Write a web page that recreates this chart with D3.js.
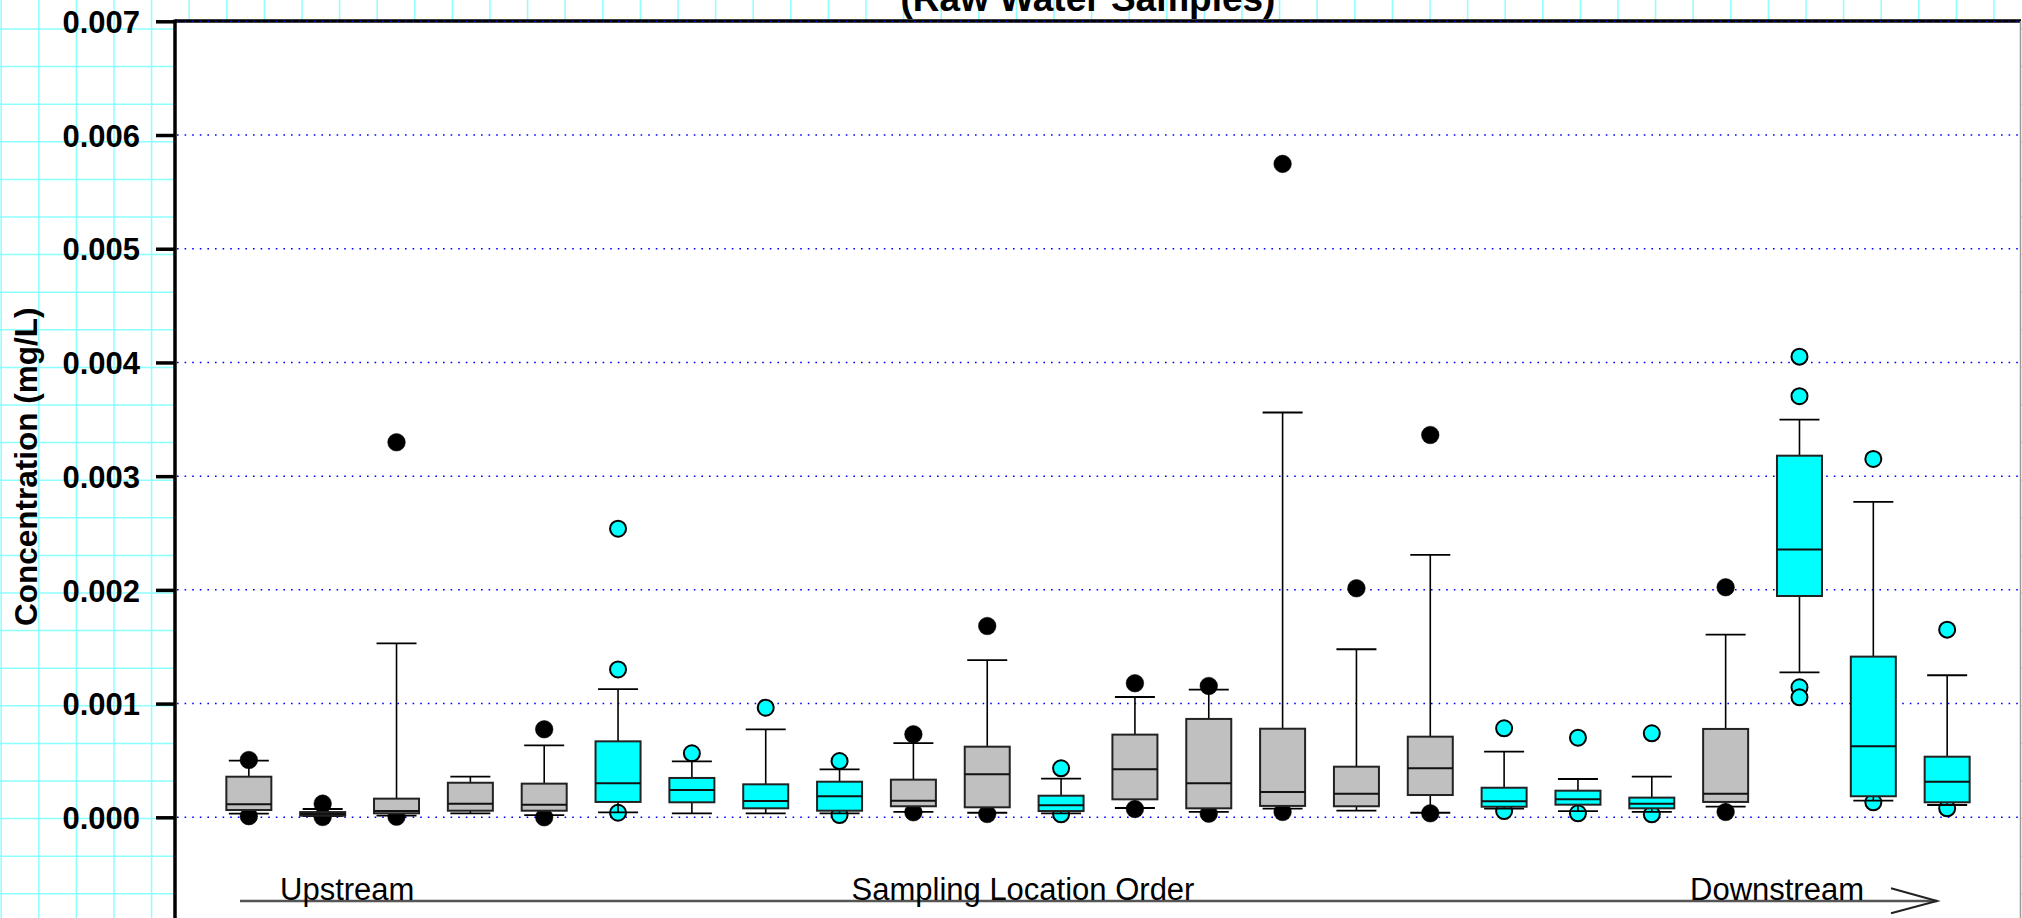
<!DOCTYPE html>
<html>
<head>
<meta charset="utf-8">
<script src="https://cdn.jsdelivr.net/npm/d3@7"></script>
<style>
  html, body { margin: 0; padding: 0; background: #fff; }
  svg { display: block; }
  text { font-family: "Liberation Sans", Arial, sans-serif; }
</style>
</head>
<body>
<svg id="chart" width="2022" height="918"></svg>
<script>
// ---------------- DATA ----------------
const locations = ["1","2","3","4","5","6","7","8","9","10","11","12","13","14","15","16","17","18","19","20","21","22","23","24"];
const boxType   = ["g","g","g","g","g","c","c","c","c","g","g","c","g","g","g","g","g","c","c","c","g","c","c","c"];
const whiskerLow  = [0.000032,0.000010,0.000014,0.000035,0.000020,0.000044,0.000035,0.000035,0.000035,0.000047,0.000040,0.000035,0.000082,0.000047,0.000076,0.000058,0.000040,0.000076,0.000055,0.000047,0.000093,0.001275,0.000146,0.000108];
const q1Values    = [0.000064,0.000014,0.000035,0.000058,0.000058,0.000135,0.000132,0.000079,0.000058,0.000097,0.000088,0.000055,0.000158,0.000079,0.000100,0.000097,0.000196,0.000093,0.000111,0.000079,0.000135,0.001946,0.000185,0.000132];
const medianValues= [0.000114,0.000029,0.000055,0.000120,0.000111,0.000299,0.000240,0.000143,0.000185,0.000146,0.000378,0.000106,0.000422,0.000299,0.000223,0.000208,0.000431,0.000141,0.000158,0.000120,0.000208,0.002354,0.000624,0.000313];
const q3Values    = [0.000357,0.000046,0.000164,0.000304,0.000296,0.000668,0.000346,0.000290,0.000313,0.000331,0.000621,0.000190,0.000727,0.000865,0.000779,0.000445,0.000709,0.000260,0.000234,0.000173,0.000777,0.003180,0.001413,0.000533];
const whiskerHigh = [0.000498,0.000073,0.001530,0.000357,0.000633,0.001128,0.000492,0.000774,0.000422,0.000653,0.001383,0.000340,0.001058,0.001122,0.003560,0.001478,0.002307,0.000577,0.000337,0.000357,0.001606,0.003497,0.002773,0.001249];
const outlierValues = [
  [0.000504,0.000010],
  [0.000120,0.000002],
  [0.003298,0.000005],
  [],
  [0.000774,0.000000],
  [0.002538,0.001300,0.000040],
  [0.000563],
  [0.000964],
  [0.000495,0.000020],
  [0.000730,0.000044],
  [0.001682,0.000029],
  [0.000431,0.000026],
  [0.001179,0.000073],
  [0.001155,0.000032],
  [0.005746,0.000047],
  [0.002014],
  [0.003362,0.000035],
  [0.000783,0.000055],
  [0.000700,0.000035],
  [0.000739,0.000026],
  [0.002023,0.000047],
  [0.004051,0.003703,0.001143,0.001055],
  [0.003151,0.000132],
  [0.001650,0.000079]
];
const yTicks = [0,0.001,0.002,0.003,0.004,0.005,0.006,0.007];
const yTickLabels = ["0.000","0.001","0.002","0.003","0.004","0.005","0.006","0.007"];
const titleText = "(Raw Water Samples)";
const yTitle = "Concentration (mg/L)";
const flowLabels = ["Upstream","Sampling Location Order","Downstream"];

// ---------------- LAYOUT ----------------
const W = 2022, H = 918;
const plotL = 175, plotR = 2021, plotT = 21;
const svg = d3.select("#chart");

const x = d3.scaleLinear().domain([0, locations.length + 1]).range([plotL, plotR]);
const y = d3.scaleLinear().domain([0, 0.007]).range([817.3, 21.3]);

const fillFor = t => t === "c" ? "#00ffff" : "#c0c0c0";

// background graph-paper grid
const gridStep = 37.6;
const bg = svg.append("g");
bg.append("rect").attr("width", W).attr("height", H).attr("fill", "#ffffff");
bg.selectAll("line.gv").data(d3.range(1.2, W, gridStep)).join("line")
  .attr("x1", d => d).attr("x2", d => d).attr("y1", 0).attr("y2", H)
  .attr("stroke", "#8cffff").attr("stroke-width", 1.5);
bg.selectAll("line.gh").data(d3.range(29 - gridStep, H, gridStep)).join("line")
  .attr("y1", d => d).attr("y2", d => d).attr("x1", 0).attr("x2", W)
  .attr("stroke", "#8cffff").attr("stroke-width", 1.5);

// plot area
svg.append("rect").attr("x", plotL).attr("y", plotT).attr("width", plotR - plotL).attr("height", H - plotT)
  .attr("fill", "#ffffff");

// dotted gridlines
svg.append("g").selectAll("line").data(yTicks).join("line")
  .attr("x1", plotL + 2).attr("x2", plotR).attr("y1", d => y(d)).attr("y2", d => y(d))
  .attr("stroke", "#0000ff").attr("stroke-width", 1.5).attr("stroke-dasharray", "1.6 6");

// top border & right border
svg.append("line").attr("x1", plotL).attr("x2", plotR).attr("y1", plotT).attr("y2", plotT)
  .attr("stroke", "#000").attr("stroke-width", 3.5);
svg.append("line").attr("x1", plotR - 0.5).attr("x2", plotR - 0.5).attr("y1", plotT).attr("y2", H)
  .attr("stroke", "#999").attr("stroke-width", 1.5);
// redraw blue dots over top border
svg.append("line").attr("x1", plotL + 2).attr("x2", plotR).attr("y1", y(0.007)).attr("y2", y(0.007))
  .attr("stroke", "#0000ff").attr("stroke-width", 1.2).attr("stroke-dasharray", "1.6 6");

// y axis
const yAxis = d3.axisLeft(y).tickValues(yTicks).tickSize(19).tickFormat((d, i) => yTickLabels[i]);
const gy = svg.append("g").attr("transform", `translate(${plotL},0)`).call(yAxis);
gy.select(".domain").remove();
gy.selectAll(".tick line").attr("stroke", "#000").attr("stroke-width", 3.5);
gy.selectAll(".tick text").attr("x", -35).attr("dy", "0.36em")
  .attr("font-size", 31).attr("font-weight", "bold").attr("fill", "#000")
  .style("font-family", '"Liberation Sans", Arial, sans-serif');
svg.append("line").attr("x1", plotL).attr("x2", plotL).attr("y1", plotT - 1.5).attr("y2", H)
  .attr("stroke", "#000").attr("stroke-width", 3.5);

// y title
svg.append("text").attr("transform", `translate(36.5,${466.7}) rotate(-90)`)
  .attr("text-anchor", "middle").attr("font-size", 31.5).attr("font-weight", "bold").text(yTitle);

// chart title (clipped at top)
svg.append("text").attr("x", 1088).attr("y", 11).attr("text-anchor", "middle")
  .attr("font-size", 37).attr("font-weight", "bold").text(titleText);

// boxes
const boxW = 45, capW = 40;
const boxes = locations.map((loc, i) => ({
  pos: i + 1, type: boxType[i], lo: whiskerLow[i], q1: q1Values[i], med: medianValues[i],
  q3: q3Values[i], hi: whiskerHigh[i], out: outlierValues[i]
}));

const gBox = svg.append("g");
// outliers first
boxes.forEach(b => {
  gBox.selectAll(null).data(b.out).join("circle")
    .attr("cx", x(b.pos)).attr("cy", d => y(d)).attr("r", b.type === "c" ? 8 : 8.8)
    .attr("fill", b.type === "c" ? "#00ffff" : "#000")
    .attr("stroke", "#000").attr("stroke-width", b.type === "c" ? 2 : 0.5);
});
const bg2 = gBox.selectAll("g.box").data(boxes).join("g").attr("class", "box");
// whiskers
bg2.append("line").attr("x1", d => x(d.pos)).attr("x2", d => x(d.pos))
  .attr("y1", d => y(d.hi)).attr("y2", d => y(d.q3)).attr("stroke", "#000").attr("stroke-width", 1.6);
bg2.append("line").attr("x1", d => x(d.pos)).attr("x2", d => x(d.pos))
  .attr("y1", d => y(d.q1)).attr("y2", d => y(d.lo)).attr("stroke", "#000").attr("stroke-width", 1.6);
bg2.append("line").attr("x1", d => x(d.pos) - capW / 2).attr("x2", d => x(d.pos) + capW / 2)
  .attr("y1", d => y(d.hi)).attr("y2", d => y(d.hi)).attr("stroke", "#000").attr("stroke-width", 1.8);
bg2.append("line").attr("x1", d => x(d.pos) - capW / 2).attr("x2", d => x(d.pos) + capW / 2)
  .attr("y1", d => y(d.lo)).attr("y2", d => y(d.lo)).attr("stroke", "#000").attr("stroke-width", 1.8);
// box
bg2.append("rect").attr("x", d => x(d.pos) - boxW / 2).attr("width", boxW)
  .attr("y", d => y(d.q3)).attr("height", d => Math.max(1, y(d.q1) - y(d.q3)))
  .attr("fill", d => fillFor(d.type)).attr("stroke", "#222").attr("stroke-width", 2);
// median
bg2.append("line").attr("x1", d => x(d.pos) - boxW / 2).attr("x2", d => x(d.pos) + boxW / 2)
  .attr("y1", d => y(d.med)).attr("y2", d => y(d.med)).attr("stroke", "#111").attr("stroke-width", 2);

// flow arrow
const arrowY = 901;
svg.append("line").attr("x1", 240).attr("x2", 1937).attr("y1", arrowY).attr("y2", arrowY)
  .attr("stroke", "#555").attr("stroke-width", 2.5);
svg.append("path").attr("d", `M1891,888.3 L1937,${arrowY} L1891,913.3`)
  .attr("fill", "none").attr("stroke", "#222").attr("stroke-width", 2);
svg.append("text").attr("x", 280).attr("y", 900).attr("font-size", 31).text(flowLabels[0]);
svg.append("text").attr("x", 1023).attr("y", 900).attr("text-anchor", "middle").attr("font-size", 31).text(flowLabels[1]);
svg.append("text").attr("x", 1690).attr("y", 900).attr("font-size", 31).text(flowLabels[2]);
</script>
</body>
</html>
